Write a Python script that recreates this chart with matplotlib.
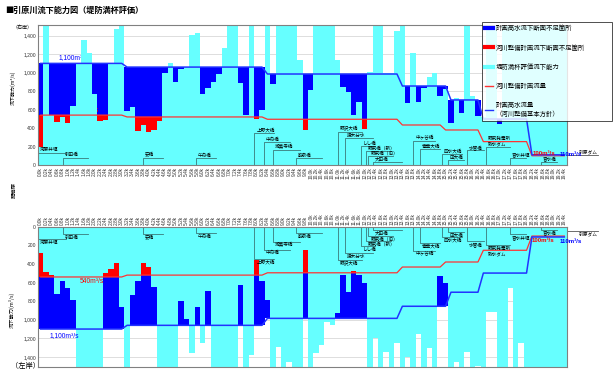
import matplotlib
matplotlib.use("Agg")
import numpy as np
import matplotlib.pyplot as plt
from matplotlib.lines import Line2D

plt.rcParams['font.family'] = ['Noto Sans CJK JP', 'DejaVu Sans']

# distance markers (0.2 km step)
dist_km = [round(i * 0.2, 1) for i in range(98)]
tick_labels = [f"{d:.1f}k" for d in dist_km]

# planned flows per section (m3/s)
q_high = [1100] * 16 + [1060] * 26 + [985] * 25 + [855] * 9 + [704] * 6 + [498] * 9 + [110] * 7
q_plan = [540] * 16 + [520] * 26 + [495] * 25 + [433] * 8 + [379] * 7 + [253] * 9 + [100] * 7

# flow capacity, bank-full evaluation (m3/s)
cap_right = [200, 1600, 545, 460, 520, 450, 640, 1090, 1354, 1216,
             769, 480, 490, 1100, 1470, 1600, 588, 630, 370, 430,
             360, 380, 480, 1000, 1108, 902, 1040, 1060, 1408, 1425,
             769, 830, 902, 985, 1267, 1600, 1600, 892, 541, 1600,
             500, 590, 1600, 877, 1600, 1600, 1600, 1600, 1137, 380,
             812, 1600, 1600, 1600, 1600, 1137, 848, 785, 541, 686,
             386, 1010, 1600, 1600, 1000, 1000, 1450, 1600, 671, 1213,
             686, 830, 953, 1000, 747, 820, 455, 720, 563, 1600,
             750, 530, 520, 1600, 1600, 440, 1600, 1600, 1600, 1600,
             1600, 1600, 1600, 1600, 1600, 1600, 1600, 1600]
cap_left = [287, 485, 520, 725, 585, 657, 790, 1600, 1600, 1600,
            1600, 1600, 500, 455, 392, 866, 1600, 737, 585, 392,
            430, 646, 1600, 1600, 1600, 1600, 800, 994, 1360, 862,
            1253, 692, 1600, 1600, 1600, 1600, 1600, 628, 1600, 1380,
            359, 585, 790, 1600, 1292, 1600, 1454, 1600, 1600, 251,
            1600, 1360, 1270, 1020, 1060, 926, 520, 700, 480, 520,
            600, 1600, 1200, 1600, 1350, 1600, 1250, 1600, 1400, 1600,
            1150, 1600, 1300, 1600, 530, 600, 1600, 1450, 1600, 1350,
            1600, 1500, 1600, 920, 915, 1600, 1600, 660, 1600, 1250,
            1600, 1600, 1600, 1600, 1600, 1600, 1600, 1600]

# bridges / weirs: name, start section, end section, bracket level
bridges = [
    ("河原井堰", -0.5, 4.6, 133),
    ("引田橋", 4.1, 8.7, 79),
    ("安橋", 18.9, 22.6, 79),
    ("午舟橋", 28.7, 32.4, 72),
    ("上野大橋", 39.6, 43.3, 343),
    ("中舟橋", 41.3, 46.1, 246),
    ("瀬美寺橋", 43.0, 48.1, 162),
    ("筋泉橋", 47.3, 52.2, 72),
    ("野沢大橋", 55.0, 59.6, 361),
    ("猿木分水", 56.3, 61.5, 287),
    ("しし橋", 59.3, 62.0, 206),
    ("野尻橋（新）", 60.2, 64.8, 152),
    ("野尻橋（旧）", 60.7, 65.2, 97),
    ("大田橋", 61.5, 67.0, 32),
    ("中ヶ谷橋", 69.0, 73.0, 260),
    ("青葉大橋", 70.2, 73.9, 173),
    ("四水大橋", 74.3, 78.1, 114),
    ("田大橋", 75.4, 78.5, 54),
    ("水管橋", 79.0, 82.2, 157),
    ("野尻発電所\n取水ダム", 82.4, 87.0, 200),
    ("音水井堰", 86.9, 89.9, 80),
    ("音水橋", 92.6, 95.6, 35),
]

BLUE = "#0000FF"
RED = "#FF0000"
CYAN = "#66FFFF"
TEAL = "#3A7A7A"
x = np.arange(len(dist_km))

fig = plt.figure(figsize=(6.14, 3.71), dpi=100)
ax1 = fig.add_axes([0.0619, 0.5553, 0.8616, 0.3774])
ax2 = fig.add_axes([0.0619, 0.0108, 0.8616, 0.378])


def draw_bank(ax, cap, upper):
    ax.bar(x, q_high, width=1.0, color=BLUE, zorder=2)
    ax.bar(x, q_plan, width=1.0, color=RED, zorder=3)
    ax.bar(x, cap, width=1.0, color=CYAN, zorder=4)
    ax.plot(x, q_plan, color="#FF3333", lw=0.9, zorder=6)
    ax.plot(x, q_high, color="#2233FF", lw=1.1, zorder=6)
    ax.set_xlim(-0.5, len(x) - 0.5)
    ax.set_yticks(range(0, 1401, 200))
    ax.set_yticklabels([f"{v:,}" for v in range(0, 1401, 200)],
                       fontsize=3.6, family="Liberation Sans", color="#333333")
    ax.set_xticks(x)
    ax.set_xticklabels(tick_labels, rotation=90, fontsize=3.4,
                       family="Liberation Sans", color="#333333")
    ax.tick_params(length=0, pad=1.5)
    ax.grid(axis="y", color="#D8D8D8", lw=0.6, zorder=0)
    ax.set_axisbelow(True)
    for s in ax.spines.values():
        s.set_color("#808080")
        s.set_linewidth(0.8)
        s.set_zorder(8)
    for name, x0, x1, lvl in bridges:
        ax.plot([x0, x0, x1], [0, lvl, lvl], color=TEAL, lw=0.6, zorder=7)
        if upper:
            ax.annotate(name, (x0, lvl), xytext=(1.5, 0.4), textcoords="offset points",
                        fontsize=3.3, va="bottom", ha="left", zorder=7, linespacing=1.0)
        else:
            ax.annotate(name, (x0, lvl), xytext=(1.5, -0.4), textcoords="offset points",
                        fontsize=3.3, va="top", ha="left", zorder=7, linespacing=1.0)
    # dam beyond the right end
    trans = ax.get_yaxis_transform()
    lvl = 110 if upper else 43
    ax.plot([1.0, 1.058], [lvl, lvl], transform=trans, color="#555555", lw=0.6, clip_on=False)
    ax.text(1.022, lvl + 8, "引原ダム", transform=trans, fontsize=3.4,
            va="bottom" if upper else "top", ha="left")


draw_bank(ax1, cap_right, True)
ax1.set_ylim(0, 1516)

draw_bank(ax2, cap_left, False)
ax2.set_ylim(1508, 0)
ax2.xaxis.tick_top()

# flow value labels
num_font = dict(family="Liberation Sans", fontsize=4.8)
end_font = dict(family="Liberation Sans", fontsize=4.4, fontweight="bold", zorder=9)
ax1.text(3.3, 1125, "1,100m³/s", color=BLUE, va="bottom", **num_font)
ax1.text(6.3, 548, "540m³/s", color=RED, va="bottom", **num_font)
ax1.text(91.1, 95, "100m³/s", color=RED, va="bottom", **end_font)
ax1.text(96.1, 85, "110m³/s", color=BLUE, va="bottom", **end_font)
ax2.text(1.7, 1130, "1,100m³/s", color=BLUE, va="top", zorder=9, **num_font)
ax2.text(7.3, 555, "540m³/s", color=RED, va="top", zorder=9, **num_font)
ax2.text(91.0, 120, "100m³/s", color=RED, va="top", **end_font)
ax2.text(96.1, 130, "110m³/s", color=BLUE, va="top", **end_font)

# titles and axis captions
fig.text(0.008, 0.973, "■引原川流下能力図（堤防満杯評価）", fontsize=5.9, fontweight="bold", va="center")
fig.text(0.021, 0.926, "（右岸）", fontsize=3.6, va="center")
fig.text(0.022, 0.762, "流下能力(m³/s)", fontsize=3.6, rotation=90, va="center", ha="center")
fig.text(0.024, 0.488, "距離標", fontsize=3.8, rotation=90, va="center", ha="center")
fig.text(0.020, 0.165, "流下能力(m³/s)", fontsize=3.8, rotation=90, va="center", ha="center")
fig.text(0.018, 0.014, "（左岸）", fontsize=5.2, va="center")

# legend
handles = [
    Line2D([], [], color=BLUE, lw=3),
    Line2D([], [], color=RED, lw=3),
    Line2D([], [], color=CYAN, lw=3),
    Line2D([], [], color="#FF3333", lw=1),
    Line2D([], [], color="#2233FF", lw=1),
]
labels = ["計画高水流下断面不足箇所", "河川整備計画流下断面不足箇所", "堤防満杯評価流下能力",
          "河川整備計画流量", "計画高水流量\n（河川整備基本方針）"]
leg = fig.legend(handles, labels, loc="upper left", bbox_to_anchor=(0.785, 0.682, 0.212, 0.26),
                 mode="expand", fontsize=4.6, frameon=True, fancybox=False, borderpad=0.45,
                 labelspacing=1.75, handlelength=1.3, handletextpad=0.35, borderaxespad=0)
leg.get_frame().set_edgecolor("black")
leg.get_frame().set_linewidth(0.6)
leg.set_zorder(20)

fig.savefig("out.png", dpi=100)
plt.close(fig)
